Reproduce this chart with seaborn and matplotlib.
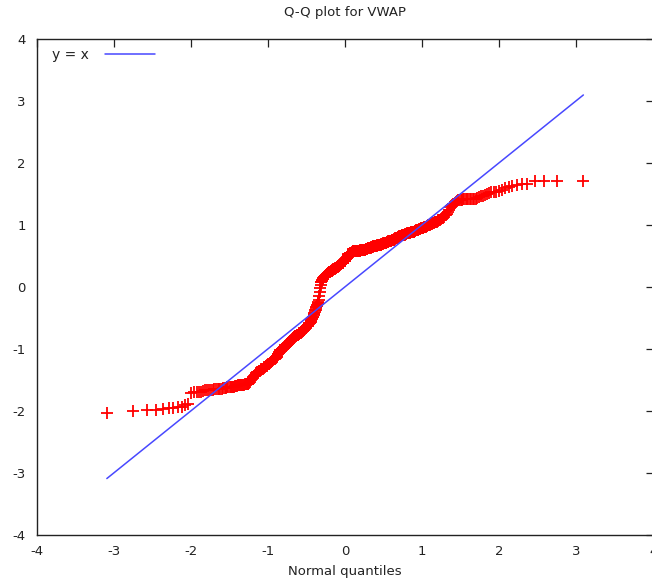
import matplotlib
matplotlib.use("Agg")
import matplotlib.pyplot as plt
import seaborn as sns
import numpy as np
import pandas as pd
from statistics import NormalDist

# Sorted, standardized VWAP sample
sample_values = [
    -2.04, -2.00, -1.99, -1.98, -1.97, -1.96, -1.95, -1.94, -1.93, -1.91, -1.89,
    -1.71, -1.70, -1.70, -1.69, -1.69, -1.68, -1.67, -1.67, -1.66,
    -1.66, -1.66, -1.65, -1.65, -1.65, -1.64, -1.64, -1.64, -1.63, -1.63, -1.63, -1.62, -1.62, -1.62,
    -1.62, -1.61, -1.61, -1.61, -1.60, -1.60, -1.60, -1.59, -1.59, -1.59, -1.59, -1.58, -1.58, -1.58,
    -1.57, -1.57, -1.57, -1.56, -1.56,
    -1.55, -1.53,
    -1.51, -1.49, -1.47, -1.45, -1.44, -1.42, -1.40, -1.39,
    -1.38, -1.37, -1.36, -1.35, -1.35, -1.34, -1.33, -1.32, -1.32, -1.31,
    -1.30, -1.29, -1.28, -1.28, -1.27, -1.26, -1.25, -1.24, -1.24, -1.23, -1.22,
    -1.21, -1.20, -1.19, -1.18, -1.17, -1.17, -1.16, -1.15, -1.14, -1.13,
    -1.11, -1.09, -1.08, -1.06, -1.05, -1.03,
    -1.02, -1.02, -1.01, -1.00, -0.99, -0.99, -0.98, -0.97, -0.97, -0.96, -0.95, -0.95, -0.94, -0.93, -0.93,
    -0.92, -0.91, -0.90, -0.89, -0.88, -0.87, -0.86, -0.85, -0.84, -0.83, -0.82,
    -0.81, -0.81, -0.80, -0.80, -0.79, -0.79, -0.78, -0.78, -0.77, -0.77, -0.76, -0.76, -0.75, -0.75,
    -0.74, -0.74, -0.73, -0.73, -0.72, -0.72, -0.71, -0.70,
    -0.69, -0.68, -0.68, -0.67, -0.66, -0.65, -0.64, -0.63, -0.63, -0.62, -0.61, -0.60, -0.59, -0.59, -0.58, -0.57,
    -0.55, -0.54, -0.52, -0.51, -0.49, -0.48, -0.46,
    -0.44, -0.42, -0.40, -0.38, -0.37, -0.35, -0.33,
    -0.31, -0.29, -0.27, -0.26, -0.24, -0.22,
    -0.15, -0.08, -0.02, 0.03, 0.07,
    0.08, 0.09, 0.11, 0.12, 0.13, 0.14,
    0.15, 0.16, 0.16, 0.17, 0.18, 0.19, 0.19, 0.20, 0.21, 0.21, 0.22,
    0.22, 0.23, 0.23, 0.24, 0.24, 0.24, 0.25, 0.25, 0.26, 0.26, 0.26, 0.27, 0.27, 0.28, 0.28,
    0.28, 0.29, 0.29, 0.30, 0.30, 0.31, 0.31, 0.32, 0.32, 0.32, 0.33, 0.33, 0.34, 0.34, 0.35, 0.35, 0.36, 0.36,
    0.37, 0.37, 0.38, 0.38, 0.39, 0.39, 0.40, 0.41, 0.41, 0.42, 0.42, 0.43,
    0.44, 0.45, 0.46, 0.47, 0.48, 0.50, 0.51, 0.52,
    0.52, 0.53, 0.53, 0.54, 0.54, 0.54, 0.55, 0.55, 0.55, 0.56, 0.56, 0.57, 0.57,
    0.57, 0.57, 0.57, 0.57, 0.57, 0.57, 0.57, 0.57,
    0.58, 0.58, 0.58, 0.58, 0.58, 0.58, 0.58, 0.58, 0.58,
    0.59, 0.59, 0.59, 0.59, 0.59, 0.59, 0.60, 0.60, 0.60,
    0.60, 0.60, 0.60, 0.60, 0.61, 0.61, 0.61, 0.61, 0.61, 0.62, 0.62, 0.62, 0.62, 0.62,
    0.63, 0.63, 0.63, 0.63, 0.64, 0.64, 0.64, 0.64, 0.65, 0.65,
    0.65, 0.65, 0.65, 0.66, 0.66, 0.66, 0.66, 0.66, 0.67, 0.67, 0.67, 0.67, 0.67,
    0.68, 0.68, 0.68, 0.68, 0.68, 0.69, 0.69, 0.69, 0.69, 0.70, 0.70,
    0.70, 0.70, 0.71, 0.71, 0.71, 0.71, 0.72, 0.72, 0.72, 0.72, 0.73, 0.73, 0.73, 0.73,
    0.74, 0.74, 0.74, 0.75, 0.75, 0.75, 0.76, 0.76,
    0.76, 0.77, 0.77, 0.78, 0.78, 0.78, 0.79, 0.79, 0.80, 0.80, 0.80, 0.81, 0.81, 0.82, 0.82, 0.82,
    0.83, 0.83, 0.83, 0.84, 0.84,
    0.84, 0.84, 0.85, 0.85, 0.85, 0.86, 0.86, 0.86, 0.87, 0.87, 0.87, 0.87, 0.88, 0.88, 0.88, 0.89, 0.89, 0.89,
    0.89, 0.90, 0.90, 0.91, 0.91, 0.91, 0.92, 0.92, 0.93, 0.93, 0.93, 0.94, 0.94, 0.94, 0.95, 0.95,
    0.96, 0.96, 0.97, 0.97, 0.98, 0.98, 0.99, 0.99, 1.00, 1.00, 1.01, 1.01, 1.02, 1.02, 1.03,
    1.04, 1.04, 1.05, 1.05, 1.06, 1.07, 1.07, 1.08,
    1.09, 1.10, 1.11, 1.12, 1.13, 1.15, 1.16, 1.17,
    1.20, 1.24, 1.28,
    1.30, 1.31, 1.33, 1.34, 1.35, 1.37, 1.38,
    1.39, 1.39, 1.40, 1.40, 1.41, 1.41,
    1.41, 1.41, 1.41, 1.42, 1.42, 1.42, 1.42, 1.42,
    1.43, 1.45, 1.46,
    1.47, 1.48, 1.49, 1.51, 1.52,
    1.53, 1.53, 1.54,
    1.56, 1.59,
    1.61, 1.62, 1.64,
    1.65, 1.66, 1.70, 1.70, 1.70, 1.70,
]

x_ticks = [-4, -3, -2, -1, 0, 1, 2, 3, 4]
y_ticks = [-4, -3, -2, -1, 0, 1, 2, 3, 4]
title_text = "Q-Q plot for VWAP"
xlabel_text = "Normal quantiles"
legend_label = "y = x"

# Theoretical normal quantiles, plotting positions (i - 0.5) / n
sample_sorted = sorted(sample_values)
n = len(sample_sorted)
nd = NormalDist()
theoretical = [nd.inv_cdf((i + 0.5) / n) for i in range(n)]
df = pd.DataFrame({"normal": theoretical, "sample": sample_sorted})

sns.set_style("white")
plt.rcParams["font.family"] = ["DejaVu Sans"]
plt.rcParams["font.size"] = 9.5

fig = plt.figure(figsize=(6.52, 5.88), dpi=100)
ax = fig.add_axes([36.7 / 652, 53 / 588, (653.5 - 36.7) / 652, (535 - 38.5) / 588])

ref = pd.DataFrame({"x": [df["normal"].min(), df["normal"].max()]})
ref["y"] = ref["x"]
sns.lineplot(data=ref, x="x", y="y", ax=ax, color="#4848ff", linewidth=1.1,
             label=legend_label, zorder=3)
sns.scatterplot(data=df, x="normal", y="sample", ax=ax, marker="+", color="#ff0000",
                s=70, linewidth=1.3, zorder=2, legend=False)

ax.set_xlim(-4, 4)
ax.set_ylim(-4, 4)
ax.set_xticks(x_ticks)
ax.set_yticks(y_ticks)
ax.set_xticklabels([str(t) for t in x_ticks])
ax.set_yticklabels([str(t) for t in y_ticks])
ax.tick_params(direction="in", length=6, width=0.9, top=True, right=True,
               colors="#222222", labelcolor="#222222", labelsize=9.5)
ax.tick_params(axis="x", pad=7)
ax.tick_params(axis="y", pad=8)
for sp in ax.spines.values():
    sp.set_color("#222222")
    sp.set_linewidth(1.0)
    sp.set_visible(True)

ax.set_xlabel(xlabel_text, fontsize=9.5, color="#222222", labelpad=5)
ax.set_ylabel("")
ax.set_title(title_text, fontsize=9.5, color="#222222", pad=16)

leg = ax.legend(loc="upper left", bbox_to_anchor=(0.01, 1.0), frameon=False,
                markerfirst=False, handlelength=3.6, handletextpad=1.2,
                fontsize=10, borderaxespad=0.25)
for t in leg.get_texts():
    t.set_color("#222222")

fig.savefig("out.png", dpi=100)
